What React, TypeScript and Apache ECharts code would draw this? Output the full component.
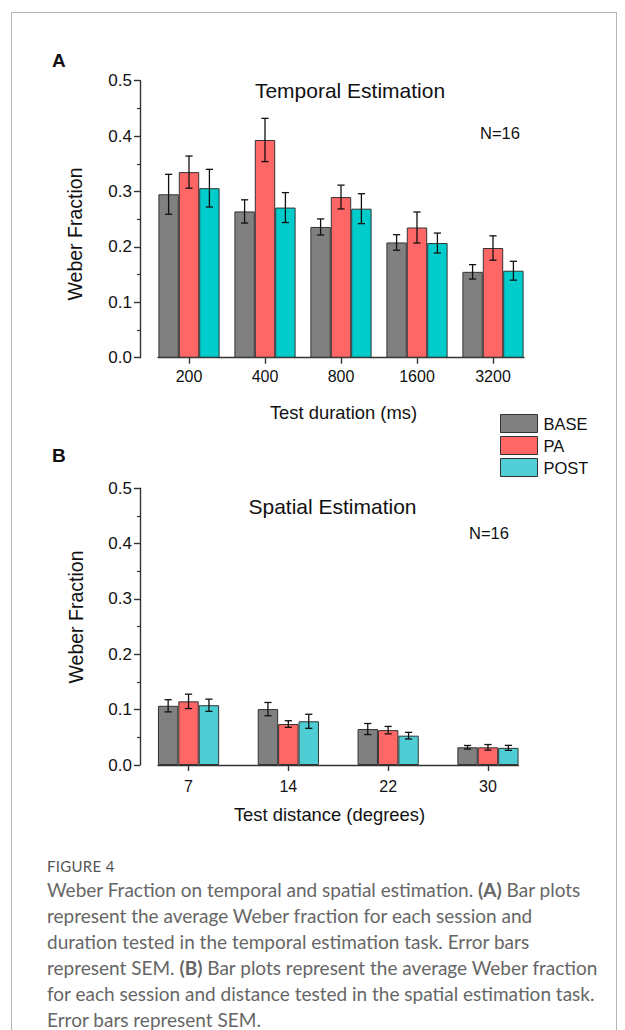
import React, { useEffect, useRef } from 'react';
import * as echarts from 'echarts';

// ---------- data ----------
const sessions = ['BASE', 'PA', 'POST'];

const durationLabels = ['200', '400', '800', '1600', '3200'];
const temporalBase = [0.295, 0.264, 0.236, 0.208, 0.155];
const temporalPA = [0.335, 0.393, 0.29, 0.235, 0.198];
const temporalPost = [0.306, 0.271, 0.269, 0.207, 0.157];
const temporalBaseSem = [0.036, 0.021, 0.0145, 0.014, 0.013];
const temporalPASem = [0.029, 0.039, 0.0215, 0.028, 0.022];
const temporalPostSem = [0.034, 0.027, 0.027, 0.018, 0.017];

const distanceLabels = ['7', '14', '22', '30'];
const spatialBase = [0.107, 0.101, 0.065, 0.032];
const spatialPA = [0.115, 0.074, 0.063, 0.032];
const spatialPost = [0.108, 0.079, 0.053, 0.031];
const spatialBaseSem = [0.011, 0.012, 0.01, 0.0033];
const spatialPASem = [0.013, 0.006, 0.0067, 0.005];
const spatialPostSem = [0.011, 0.0127, 0.006, 0.0045];

const yTickLabels = ['0.0', '0.1', '0.2', '0.3', '0.4', '0.5'];

// ---------- style ----------
const FONT = '"Liberation Sans", Arial, Helvetica, sans-serif';
const AXIS_COLOR = '#333333';
const BAR_W = 20.4;
const colorsA = ['#808080', '#FF6666', '#00CCCC'];
const colorsB = ['#808080', '#FF6666', '#4FCDD4'];
const legendColors = ['#808080', '#FF6666', '#52CFD6'];

const errRender = (params: any, api: any) => {
  const x = api.value(0);
  const m = api.value(1);
  const e = api.value(2);
  const s = api.value(3);
  const top = api.coord([x, m + e]);
  const bot = api.coord([x, m - e]);
  const cx = top[0] + (s - 1) * BAR_W;
  const hw = 3.6;
  const style = { stroke: '#111111', lineWidth: 1.3 };
  return {
    type: 'group',
    children: [
      { type: 'line', shape: { x1: cx, y1: top[1], x2: cx, y2: bot[1] }, style },
      { type: 'line', shape: { x1: cx - hw, y1: top[1], x2: cx + hw, y2: top[1] }, style },
      { type: 'line', shape: { x1: cx - hw, y1: bot[1], x2: cx + hw, y2: bot[1] }, style },
    ],
  };
};

function xAxisFor(gridIndex: number, labels: string[], halfGroup: number, margin: number) {
  const idx = labels.map((_, i) => i);
  return {
    type: 'value',
    gridIndex,
    min: -halfGroup,
    max: labels.length - 1 + halfGroup,
    axisLine: { show: true, onZero: false, lineStyle: { color: AXIS_COLOR, width: 1.4 } },
    axisTick: { show: true, inside: false, length: 6, customValues: idx, lineStyle: { color: AXIS_COLOR, width: 1.4 } },
    axisLabel: {
      show: true,
      customValues: idx,
      formatter: (v: number) => labels[Math.round(v)] ?? '',
      fontSize: 16,
      color: '#111111',
      fontFamily: FONT,
      margin,
    },
    splitLine: { show: false },
  };
}

function yAxisFor(gridIndex: number) {
  return {
    type: 'value',
    gridIndex,
    min: 0,
    max: 0.5,
    interval: 0.1,
    offset: 18,
    axisLine: { show: true, onZero: false, lineStyle: { color: AXIS_COLOR, width: 1.4 } },
    axisTick: { show: true, inside: false, length: 6, lineStyle: { color: AXIS_COLOR, width: 1.4 } },
    minorTick: { show: true, splitNumber: 2, length: 3, lineStyle: { color: AXIS_COLOR, width: 1.2 } },
    axisLabel: {
      formatter: (v: number) => yTickLabels[Math.round(v * 10)] ?? v.toFixed(1),
      fontSize: 17,
      color: '#111111',
      fontFamily: FONT,
      margin: 8,
    },
    splitLine: { show: false },
    minorSplitLine: { show: false },
  };
}

function barSeries(name: string, values: number[], axisIndex: number, color: string) {
  return {
    name,
    type: 'bar',
    xAxisIndex: axisIndex,
    yAxisIndex: axisIndex,
    data: values.map((v, i) => [i, v]),
    barWidth: BAR_W,
    barGap: '0%',
    itemStyle: { color, borderColor: '#333333', borderWidth: 1 },
    z: 2,
  };
}

function errSeries(name: string, axisIndex: number, means: number[][], sems: number[][]) {
  const data: number[][] = [];
  means.forEach((arr, s) => arr.forEach((m, i) => data.push([i, m, sems[s][i], s])));
  return {
    name,
    type: 'custom',
    xAxisIndex: axisIndex,
    yAxisIndex: axisIndex,
    renderItem: errRender,
    data,
    encode: { x: 0, y: 1 },
    clip: false,
    z: 5,
  };
}

function Chart() {
  const ref = useRef<HTMLDivElement>(null);
  useEffect(() => {
    if (!ref.current) return;
    const chart = echarts.init(ref.current, undefined, { renderer: 'svg' });
    const txt = (text: string, x: number, y: number, fontSize: number, extra: any = {}) => ({
      type: 'text',
      x,
      y,
      style: {
        text,
        fontSize,
        fontFamily: FONT,
        fill: '#111111',
        align: 'center',
        verticalAlign: 'middle',
        ...extra,
      },
    });
    chart.setOption({
      animation: false,
      backgroundColor: 'transparent',
      grid: [
        { left: 158, width: 366, top: 80.7, height: 277 },
        { left: 158, width: 360.5, top: 488.3, height: 276.7 },
      ],
      xAxis: [
        xAxisFor(0, durationLabels, 0.408, 11),
        xAxisFor(1, distanceLabels, 0.306, 13),
      ],
      yAxis: [yAxisFor(0), yAxisFor(1)],
      legend: {
        data: sessions.map((s, i) => ({ name: s, itemStyle: { color: legendColors[i], borderColor: '#333333', borderWidth: 1 } })),
        orient: 'vertical',
        left: 500,
        top: 414,
        padding: 0,
        icon: 'rect',
        itemWidth: 37,
        itemHeight: 18,
        itemGap: 3,
        selectedMode: false,
        textStyle: { fontSize: 16.5, color: '#111111', fontFamily: FONT, padding: [0, 0, 0, 1] },
      },
      graphic: [
        txt('A', 52, 60, 19, { fontWeight: 'bold', align: 'left' }),
        txt('B', 52, 455, 19, { fontWeight: 'bold', align: 'left' }),
        txt('Temporal Estimation', 350, 90, 21),
        txt('N=16', 480, 133, 16.5, { align: 'left' }),
        txt('Spatial Estimation', 332.5, 506, 21),
        txt('N=16', 469, 533, 16.5, { align: 'left' }),
        txt('Test duration (ms)', 343.5, 412, 18.4),
        txt('Test distance (degrees)', 329.5, 814, 18.4),
        { ...txt('Weber Fraction', 75, 234, 19.5), rotation: Math.PI / 2 },
        { ...txt('Weber Fraction', 76, 617, 19.5), rotation: Math.PI / 2 },
      ],
      series: [
        barSeries('BASE', temporalBase, 0, colorsA[0]),
        barSeries('PA', temporalPA, 0, colorsA[1]),
        barSeries('POST', temporalPost, 0, colorsA[2]),
        errSeries('errA', 0, [temporalBase, temporalPA, temporalPost], [temporalBaseSem, temporalPASem, temporalPostSem]),
        barSeries('BASE', spatialBase, 1, colorsB[0]),
        barSeries('PA', spatialPA, 1, colorsB[1]),
        barSeries('POST', spatialPost, 1, colorsB[2]),
        errSeries('errB', 1, [spatialBase, spatialPA, spatialPost], [spatialBaseSem, spatialPASem, spatialPostSem]),
      ],
    });
    return () => chart.dispose();
  }, []);
  return <div ref={ref} style={{ position: 'absolute', left: 0, top: 0, width: 625, height: 850 }} />;
}

const captionLines: React.ReactNode[] = [
  <>Weber Fraction on temporal and spatial estimation. <b>(A)</b> Bar plots</>,
  <>represent the average Weber fraction for each session and</>,
  <>duration tested in the temporal estimation task. Error bars</>,
  <>represent SEM. <b>(B)</b> Bar plots represent the average Weber fraction</>,
  <>for each session and distance tested in the spatial estimation task.</>,
  <>Error bars represent SEM.</>,
];

export default function App() {
  return (
    <div style={{ position: 'absolute', left: 0, top: 0, width: 625, height: 1030, overflow: 'hidden', background: '#ffffff' }}>
      <div
        style={{
          position: 'absolute',
          left: 11,
          top: 12,
          width: 606,
          height: 1100,
          border: '1px solid #b4b4b4',
          boxSizing: 'border-box',
        }}
      />
      <Chart />
      <div
        style={{
          position: 'absolute',
          left: 47,
          top: 856,
          fontFamily: 'Lato, "Open Sans", sans-serif',
          fontSize: 15,
          lineHeight: '20px',
          color: '#555555',
          letterSpacing: 0.3,
        }}
      >
        FIGURE 4
      </div>
      <div
        style={{
          position: 'absolute',
          left: 47,
          top: 877,
          fontFamily: 'Lato, "Open Sans", sans-serif',
          fontSize: 19,
          lineHeight: '26px',
          color: '#666666',
          whiteSpace: 'nowrap',
        }}
      >
        {captionLines.map((l, i) => (
          <div key={i}>{l}</div>
        ))}
      </div>
    </div>
  );
}
